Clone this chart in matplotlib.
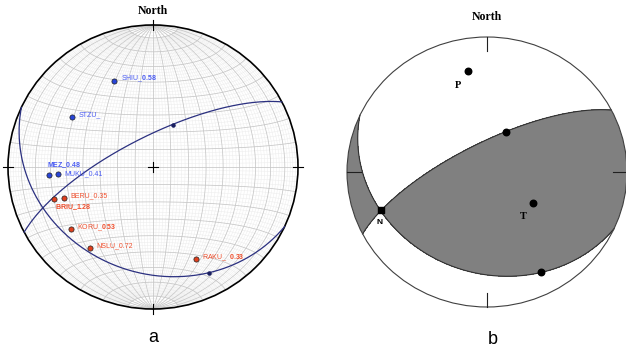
import numpy as np
import matplotlib.pyplot as plt
from matplotlib.patches import Circle

plt.rcParams['mathtext.fontset'] = 'custom'
plt.rcParams['mathtext.rm'] = 'Liberation Sans'
plt.rcParams['mathtext.bf'] = 'Liberation Sans:bold'

##############################
###### fault plane data ######
##############################

# nodal planes (dip direction, dip) [deg]
plane_dipdir = [204.8, 332.7]
plane_dip = [26.9, 72.5]

# pressure / tension / null axes (trend, plunge)
p_axis = (349.6, 24.7)
t_axis = (124.6, 57.1)
n_axis = (249.7, 20.1)

# slip vectors drawn on the planes (trend, plunge)
slip_trend = [24.8, 152.7]
slip_plunge = [63.1, 17.5]

# stations (trend, plunge) with delay times
stations = ['SHIU', 'STZU', 'MEZ', 'MUKU', 'BERU', 'BRIU', 'KORU', 'NSLU', 'RAKU']
delays = ['0.58', '', '0.48', '0.41', '0.35', '1.28', '0.53', '0.72', '0.33']
st_trend = [336.3, 302.4, 265.5, 265.7, 250.7, 251.6, 232.4, 217.4, 155.7]
st_plunge = [34.0, 34.4, 28.9, 34.8, 35.0, 28.8, 29.1, 29.3, 29.4]
st_group = ['blue', 'blue', 'blue', 'blue', 'red', 'red', 'red', 'red', 'red']

# label placement (offset in points, bold number?)
lab_off = {'MEZ': (-1.5, 7.4), 'MUKU': (4.5, 0.4), 'BRIU': (0.5, -6.0), 'RAKU': (4.5, 1.3)}
bold_num = {'SHIU', 'MEZ', 'BRIU', 'KORU', 'RAKU'}
colors = {'blue': ('#2845d8', '#4a5cf2'), 'red': ('#e0401e', '#f0502e')}


def vec(trend, plunge):
    t, p = np.radians(trend), np.radians(plunge)
    return np.array([np.cos(p) * np.cos(t), np.cos(p) * np.sin(t), np.sin(p)])


def proj(v):
    # lower hemisphere equal area (Schmidt)
    n, e, d = v
    s = np.sqrt(1 + d)
    return e / s, n / s


def plane_xy(dipdir, dip, npts=300):
    s = np.radians(dipdir - 90)
    dd, dp = np.radians(dipdir), np.radians(dip)
    sv = np.array([np.cos(s), np.sin(s), 0.0])
    dv = np.array([np.cos(dp) * np.cos(dd), np.cos(dp) * np.sin(dd), np.sin(dp)])
    t = np.linspace(0, np.pi, npts)
    return proj(np.outer(sv, np.cos(t)) + np.outer(dv, np.sin(t)))


def pole(dipdir, dip):
    return vec(dipdir - 180, 90 - dip)


def setup_ax(ax, cx, cy, rh, rv, w=313, h=357):
    ax.set_xlim(-cx / rh, (w - cx) / rh)
    ax.set_ylim((cy - h) / rv, cy / rv)
    ax.axis('off')


def schmidt_net(ax):
    t = np.linspace(0, np.pi, 181)
    for a in range(2, 180, 2):
        ar = np.radians(a)
        major = a % 10 == 0
        tt = t if major else t[10:171]
        v = np.array([np.cos(tt), np.sin(tt) * np.cos(ar), np.sin(tt) * np.sin(ar)])
        x, y = proj(v)
        ax.plot(x, y, color='#c6c6c6' if major else '#ececec',
                lw=0.55 if major else 0.35, zorder=1 if major else 0)
    for a in range(2, 180, 2):
        ar = np.radians(a)
        major = a % 10 == 0
        v = np.array([np.full_like(t, np.cos(ar)), np.sin(ar) * np.cos(t), np.sin(ar) * np.sin(t)])
        x, y = proj(v)
        ax.plot(x, y, color='#c6c6c6' if major else '#ececec',
                lw=0.55 if major else 0.35, zorder=1 if major else 0)


fig = plt.figure(figsize=(6.26, 3.57), dpi=100)

#######################
###### panel a ########
#######################
ax1 = fig.add_axes([0, 0, 0.5, 1])
setup_ax(ax1, 153, 167, 145, 142)
schmidt_net(ax1)
ax1.add_patch(Circle((0, 0), 1, fill=False, ec='black', lw=1.2, zorder=3))
for dx, dy in [(0, 1), (1, 0), (0, -1), (-1, 0)]:
    ax1.plot([dx * 0.965, dx * 1.035], [dy * 0.965, dy * 1.035], color='black', lw=0.8, zorder=3)
ax1.plot([-0.035, 0.035], [0, 0], color='black', lw=0.8, zorder=3)
ax1.plot([0, 0], [-0.035, 0.035], color='black', lw=0.8, zorder=3)
ax1.text(0, 1.1, 'North', ha='center', va='center', fontsize=8.5,
         family='Liberation Serif', weight='bold')

for dd, dp in zip(plane_dipdir, plane_dip):
    x, y = plane_xy(dd, dp)
    ax1.plot(x, y, color='#2b3080', lw=0.9, zorder=4)
sx, sy = proj(np.array([vec(t, p) for t, p in zip(slip_trend, slip_plunge)]).T)
ax1.scatter(sx, sy, s=5, color='#1a1f60', zorder=5)

for name, dl, tr, pl, g in zip(stations, delays, st_trend, st_plunge, st_group):
    x, y = proj(vec(tr, pl))
    fc, tc = colors[g]
    ax1.scatter(x, y, s=14, color=fc, edgecolors='#202020', linewidths=0.5, zorder=6)
    if name in bold_num and dl:
        if name == 'RAKU':
            label = name + r'_  $\mathbf{' + dl + '}$'
        else:
            label = name + r'_$\mathbf{' + dl + '}$'
    else:
        label = name + '_' + dl
    if name in ('MEZ', 'BRIU'):
        label = r'$\mathbf{' + name + r'\_' + dl + '}$'
    off = lab_off.get(name, (4.5, 1.3))
    ax1.annotate(label, (x, y), xytext=off, textcoords='offset points',
                 ha='left', va='center', fontsize=5, color=tc,
                 family='Liberation Sans', zorder=7)

#######################
###### panel b ########
#######################
ax2 = fig.add_axes([0.5, 0, 0.5, 1])
setup_ax(ax2, 174, 172, 140, 135)

nA = pole(plane_dipdir[0], plane_dip[0])
nB = pole(plane_dipdir[1], plane_dip[1])
g = np.linspace(-1, 1, 801)
X, Y = np.meshgrid(g, g)
R2 = np.clip(X ** 2 + Y ** 2, 0, 1)
D = 1 - R2
S = np.sqrt(1 + D)
V = np.array([Y * S, X * S, D])
f = np.tensordot(nA, V, 1) * np.tensordot(nB, V, 1)
tv = vec(*t_axis)
f = f * np.sign(np.dot(nA, tv) * np.dot(nB, tv))
f[X ** 2 + Y ** 2 > 1.0] = -1
cs = ax2.contourf(X, Y, f, levels=[0, 10], colors=['#808080'], zorder=1)
clip = Circle((0, 0), 1, transform=ax2.transData, fc='none', ec='none')
ax2.add_patch(clip)
cs.set_clip_path(clip)

for dd, dp in zip(plane_dipdir, plane_dip):
    x, y = plane_xy(dd, dp)
    ax2.plot(x, y, color='#303030', lw=0.8, zorder=2)
ax2.add_patch(Circle((0, 0), 1, fill=False, ec='#404040', lw=0.8, zorder=3))
for dx, dy in [(0, 1), (1, 0), (0, -1), (-1, 0)]:
    k = 1 - 14.0 / (140 if dx else 135)
    ax2.plot([dx * k, dx], [dy * k, dy], color='#202020', lw=0.8, zorder=3)
ax2.text(0, 1.145, 'North', ha='center', va='center', fontsize=8.5,
         family='Liberation Serif', weight='bold')

px, py = proj(vec(*p_axis))
tx, ty = proj(vec(*t_axis))
nx, ny = proj(vec(*n_axis))
ax2.scatter([px, tx], [py, ty], s=22, color='black', zorder=5)
ax2.scatter(nx, ny, s=22, marker='s', color='black', zorder=5)
sx, sy = proj(np.array([vec(t, p) for t, p in zip(slip_trend, slip_plunge)]).T)
ax2.scatter(sx, sy, s=22, color='black', zorder=5)
ax2.annotate('P', (px, py), xytext=(-7, -10.5), textcoords='offset points', ha='center',
             va='center', fontsize=7.5, family='Liberation Serif', weight='bold')
ax2.annotate('T', (tx, ty), xytext=(-7, -10), textcoords='offset points', ha='center',
             va='center', fontsize=7.5, family='Liberation Serif', weight='bold')
ax2.annotate('N', (nx, ny), xytext=(-1, -9), textcoords='offset points', ha='center',
             va='center', fontsize=6, family='Liberation Sans', weight='bold')

fig.text(153 / 626, 1 - 338 / 357, 'a', ha='center', va='center', fontsize=13,
         family='Liberation Sans')
fig.text(493 / 626, 1 - 340 / 357, 'b', ha='center', va='center', fontsize=13,
         family='Liberation Sans')

fig.savefig('out.png', dpi=100)
